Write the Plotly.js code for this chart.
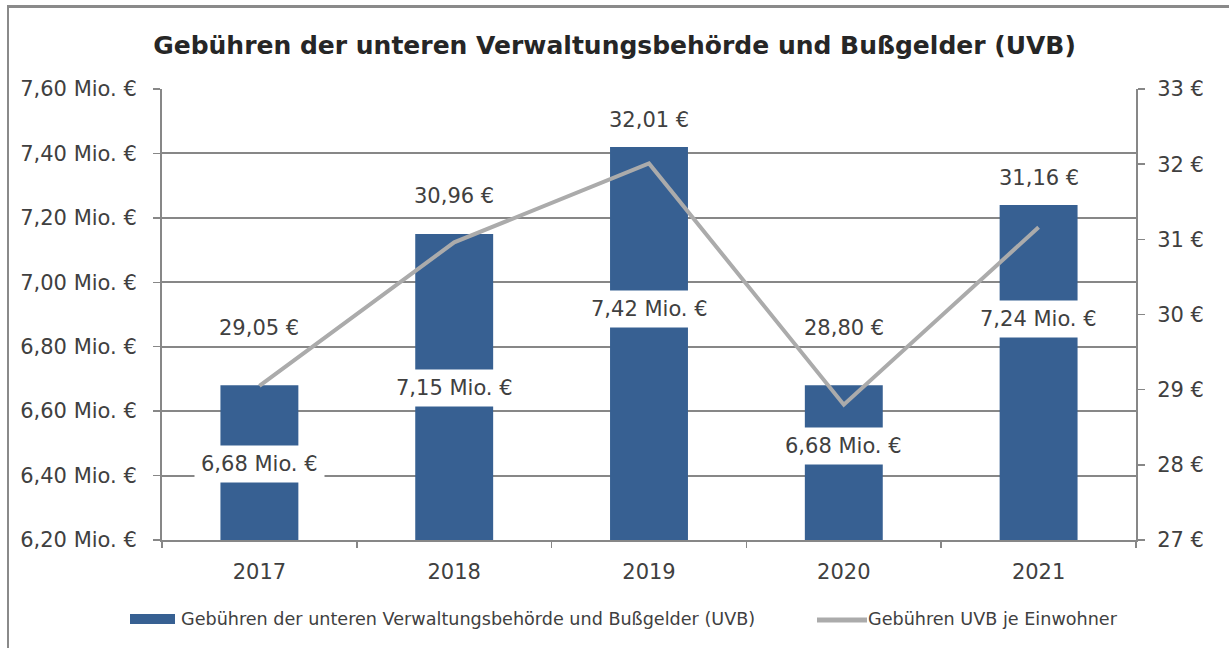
<!DOCTYPE html>
<html>
<head>
<meta charset="utf-8">
<script src="https://cdn.plot.ly/plotly-3.0.1.min.js"></script>
<style>
  html, body { margin: 0; padding: 0; background: #fff; }
  #wrap { position: relative; width: 1229px; height: 648px; overflow: hidden; }
  #chart { position: absolute; left: 0; top: 0; width: 1229px; height: 648px; }
  #frame { position: absolute; left: 7px; top: 5px; width: 1240px; height: 660px;
           border-left: 2px solid #8a8a8a; border-top: 3px solid #8a8a8a; pointer-events: none; }
</style>
</head>
<body>
<div id="wrap"><div id="chart"></div><div id="frame"></div></div>
<script>
// ---- data ----
const years = ['2017', '2018', '2019', '2020', '2021'];
const feesMio = [6.68, 7.15, 7.42, 6.68, 7.24];           // Mio. €
const feesPerInhabitant = [29.05, 30.96, 32.01, 28.80, 31.16]; // €
const leftTickVals = [6.2, 6.4, 6.6, 6.8, 7.0, 7.2, 7.4, 7.6];
const leftTickText = ['6,20 Mio. €', '6,40 Mio. €', '6,60 Mio. €', '6,80 Mio. €', '7,00 Mio. €', '7,20 Mio. €', '7,40 Mio. €', '7,60 Mio. €'];
const rightTickVals = [27, 28, 29, 30, 31, 32, 33];
const rightTickText = ['27 €', '28 €', '29 €', '30 €', '31 €', '32 €', '33 €'];
const barName = 'Gebühren der unteren Verwaltungsbehörde und Bußgelder (UVB)';
const lineName = 'Gebühren UVB je Einwohner';

// label pixel offsets (styling)
const barLabelShift = [-79, -154, -162, -61, -114];
const lineLabelShift = [58, 46, 43, 77, 49];

const fmt = (v, d) => v.toFixed(d).replace('.', ',');

const FONT = 'DejaVu Sans, Verdana, sans-serif';
const TXT = '#404040';
const GRID = '#878787';
const BAR = '#376092';
const LINE = '#ababab';
const FS = 21;

// plot area geometry (pixels)
const M = { l: 162, r: 93, t: 89, b: 108 };
const W = 1229, H = 648;
const PW = W - M.l - M.r, PH = H - M.t - M.b;
const px = x => (x - M.l) / PW;          // pixel x -> paper x
const py = y => (H - M.b - y) / PH;      // pixel y -> paper y

const traces = [
  {
    type: 'bar', x: years, y: feesMio, name: barName,
    marker: { color: BAR }, width: 0.4, yaxis: 'y', hoverinfo: 'skip'
  },
  {
    type: 'scatter', mode: 'lines', x: years, y: feesPerInhabitant, name: lineName,
    line: { color: LINE, width: 4 }, yaxis: 'y2', hoverinfo: 'skip'
  }
];

const annotations = [];
years.forEach((yr, i) => {
  annotations.push({
    x: i, y: feesMio[i], xref: 'x', yref: 'y', yshift: barLabelShift[i],
    text: fmt(feesMio[i], 2) + ' Mio. €', showarrow: false,
    font: { family: FONT, size: FS, color: TXT },
    bgcolor: '#ffffff', borderpad: 6, yanchor: 'middle'
  });
  annotations.push({
    x: i, y: feesPerInhabitant[i], xref: 'x', yref: 'y2', yshift: lineLabelShift[i],
    text: fmt(feesPerInhabitant[i], 2) + ' €', showarrow: false,
    font: { family: FONT, size: FS, color: TXT }, yanchor: 'middle'
  });
});

// custom legend (matches original look)
const LEG_FONT = { family: FONT, size: 17.6, color: TXT };
annotations.push({
  x: px(180), y: py(619), xref: 'paper', yref: 'paper', xanchor: 'left', yanchor: 'middle',
  text: barName, showarrow: false, font: LEG_FONT, borderpad: 0
});
annotations.push({
  x: px(867), y: py(619), xref: 'paper', yref: 'paper', xanchor: 'left', yanchor: 'middle',
  text: lineName, showarrow: false, font: LEG_FONT, borderpad: 0
});
const shapes = [
  { type: 'rect', xref: 'paper', yref: 'paper', x0: px(130), x1: px(175), y0: py(624), y1: py(614),
    fillcolor: BAR, line: { width: 0 } },
  { type: 'line', xref: 'paper', yref: 'paper', x0: px(817), x1: px(867), y0: py(620), y1: py(620),
    line: { color: LINE, width: 5 } }
];

const layout = {
  width: W, height: H,
  margin: M,
  paper_bgcolor: '#ffffff', plot_bgcolor: '#ffffff',
  font: { family: FONT, color: TXT, size: FS },
  title: {
    text: '<b>Gebühren der unteren Verwaltungsbehörde und Bußgelder (UVB)</b>',
    font: { family: FONT, size: 25, color: '#262626' },
    x: 0.5, xref: 'container', y: 1 - 45 / 648, yref: 'container', yanchor: 'middle'
  },
  showlegend: false,
  xaxis: {
    type: 'category', range: [-0.5, 4.5], showgrid: false, showline: true, linecolor: GRID, linewidth: 2,
    ticks: 'outside', tickson: 'boundaries', ticklen: 6, tickcolor: GRID, tickwidth: 1.5,
    tickfont: { family: FONT, size: FS, color: TXT }, ticklabelstandoff: 12,
    zeroline: false, fixedrange: true
  },
  yaxis: {
    range: [6.2, 7.6], tickvals: leftTickVals, ticktext: leftTickText,
    showgrid: true, gridcolor: GRID, gridwidth: 2, showline: true, linecolor: GRID, linewidth: 2,
    ticks: 'outside', ticklen: 7, tickcolor: GRID, tickwidth: 1.5,
    tickfont: { family: FONT, size: FS, color: TXT }, ticklabelstandoff: 12,
    zeroline: false, fixedrange: true
  },
  yaxis2: {
    range: [27, 33], tickvals: rightTickVals, ticktext: rightTickText,
    overlaying: 'y', side: 'right', showgrid: false, showline: true, linecolor: GRID, linewidth: 2,
    ticks: 'outside', ticklen: 7, tickcolor: GRID, tickwidth: 1.5,
    tickfont: { family: FONT, size: FS, color: TXT }, ticklabelstandoff: 8,
    zeroline: false, fixedrange: true
  },
  annotations: annotations,
  shapes: shapes,
  bargap: 0.6
};

Plotly.newPlot('chart', traces, layout, { displayModeBar: false, staticPlot: true });
</script>
</body>
</html>
